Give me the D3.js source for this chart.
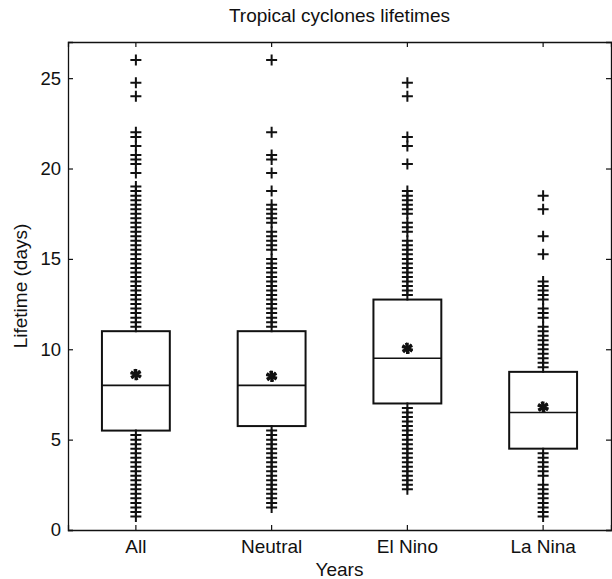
<!DOCTYPE html>
<html>
<head>
<meta charset="utf-8">
<script src="https://cdn.jsdelivr.net/npm/d3@7"></script>
<style>
  body { margin: 0; background: #fff; }
  text { font-family: "Liberation Sans", Arial, sans-serif; fill: #111; }
</style>
</head>
<body>
<svg id="chart"></svg>
<script>
// Tropical cyclone lifetimes boxplot
let categories = ['All', 'Neutral', 'El Nino', 'La Nina'];
let q1 = [5.5, 5.75, 7.0, 4.5];
let medians = [8.0, 8.0, 9.5, 6.5];
let q3 = [11.0, 11.0, 12.75, 8.75];
let means = [8.6, 8.5, 10.05, 6.8];
let yTicks = [0, 5, 10, 15, 20, 25];

// every value outside the box is drawn as a '+'
let allOutliers = [26, 24.75, 24, 22, 21.75, 21.25, 20.75, 20.5, 20.25, 19.75,
  19, 18.75, 18.5, 18.25, 18, 17.75, 17.5, 17.25, 17, 16.75, 16.5, 16.25, 16,
  15.75, 15.5, 15.25, 15, 14.75, 14.5, 14.25, 14, 13.75, 13.5, 13.25, 13, 12.75,
  12.5, 12.25, 12, 11.75, 11.5, 11.25,
  5.25, 5, 4.75, 4.5, 4.25, 4, 3.75, 3.5, 3.25, 3, 2.75, 2.5, 2.25, 2, 1.75,
  1.5, 1.25, 1, 0.75];
let neutralOutliers = [26, 22, 20.75, 20.5, 19.75, 18.75, 18, 17.75, 17.5,
  17.25, 17, 16.5, 16.25, 16, 15.75, 15.5, 15, 14.75, 14.5, 14.25, 14, 13.75,
  13.5, 13.25, 13, 12.75, 12.5, 12.25, 12, 11.75, 11.5, 11.25,
  5.5, 5.25, 5, 4.75, 4.5, 4.25, 4, 3.75, 3.5, 3.25, 3, 2.75, 2.5, 2.25, 2,
  1.75, 1.5, 1.25];
let elNinoOutliers = [24.75, 24, 21.75, 21.25, 20.25, 18.75, 18.5, 18.25, 18,
  17.75, 17.5, 17, 16.75, 16.5, 16, 15.75, 15.5, 15.25, 15, 14.75, 14.5, 14.25,
  14, 13.75, 13.5, 13.25, 13,
  6.75, 6.5, 6.25, 6, 5.75, 5.5, 5.25, 5, 4.75, 4.5, 4.25, 4, 3.75, 3.5, 3.25,
  3, 2.75, 2.5, 2.25];
let laNinaOutliers = [18.5, 17.75, 16.25, 15.25, 13.75, 13.5, 13.25, 13, 12.75,
  12.25, 12, 11.75, 11.25, 11, 10.75, 10.5, 10.25, 10, 9.75, 9.5, 9.25, 9,
  4.25, 4, 3.75, 3.5, 3.25, 3, 2.5, 2.25, 2, 1.75, 1.5, 1.25, 1, 0.75];
let outliers = [allOutliers, neutralOutliers, elNinoOutliers, laNinaOutliers];

let width = 612;
let height = 579;
let margin = { top: 42, right: 1, bottom: 49, left: 68 };

let svg = d3.select('#chart')
  .attr('width', width)
  .attr('height', height);

let x = d3.scaleBand()
  .domain(categories)
  .range([margin.left, width - margin.right])
  .padding(0);

let y = d3.scaleLinear()
  .domain([0, 27])
  .range([height - margin.bottom, margin.top]);

let boxes = categories.map((c, i) => ({
  name: c, q1: q1[i], med: medians[i], q3: q3[i], mean: means[i], out: outliers[i]
}));

let boxW = x.bandwidth() * 0.5;
let cx = d => x(d.name) + x.bandwidth() / 2;

// axes, ticks pointing inside like matlab
let tickLen = 5;
svg.append('g')
  .attr('transform', `translate(${margin.left},0)`)
  .call(d3.axisLeft(y).tickValues(yTicks).tickSize(-tickLen).tickPadding(7))
  .call(g => g.selectAll('text').style('font-size', '18.5px'));

svg.append('g')
  .attr('transform', `translate(${width - margin.right},0)`)
  .call(d3.axisRight(y).tickValues(yTicks).tickSize(-tickLen).tickFormat(''));

svg.append('g')
  .attr('transform', `translate(0,${height - margin.bottom})`)
  .call(d3.axisBottom(x).tickSize(-tickLen).tickPadding(10))
  .call(g => g.selectAll('text').style('font-size', '19px'));

svg.append('g')
  .attr('transform', `translate(0,${margin.top})`)
  .call(d3.axisTop(x).tickSize(-tickLen).tickFormat(''));

svg.selectAll('.domain').attr('stroke', '#111').attr('stroke-width', 1.3);
svg.selectAll('.tick line').attr('stroke', '#111').attr('stroke-width', 1.2);
svg.selectAll('.tick text').attr('fill', '#111');

// boxes
let g = svg.selectAll('.box')
  .data(boxes)
  .enter()
  .append('g')
  .attr('class', 'box');

g.append('rect')
  .attr('x', d => cx(d) - boxW / 2)
  .attr('y', d => y(d.q3))
  .attr('width', boxW)
  .attr('height', d => y(d.q1) - y(d.q3))
  .attr('fill', 'none')
  .attr('stroke', '#111')
  .attr('stroke-width', 2);

g.append('line')
  .attr('x1', d => cx(d) - boxW / 2)
  .attr('x2', d => cx(d) + boxW / 2)
  .attr('y1', d => y(d.med))
  .attr('y2', d => y(d.med))
  .attr('stroke', '#111')
  .attr('stroke-width', 1.6);

// outlier crosses
let plus = 5.5;
g.selectAll('.out')
  .data(d => d.out.map(v => ({ cx: cx(d), v: v })))
  .enter()
  .append('path')
  .attr('d', p => `M${p.cx - plus},${y(p.v)}H${p.cx + plus}M${p.cx},${y(p.v) - plus}V${y(p.v) + plus}`)
  .attr('stroke', '#111')
  .attr('stroke-width', 2)
  .attr('fill', 'none');

// mean stars
g.append('path')
  .attr('d', d3.symbol(d3.symbolAsterisk, 90))
  .attr('transform', d => `translate(${cx(d)},${y(d.mean)})`)
  .attr('stroke', '#111')
  .attr('stroke-width', 2.8)
  .attr('fill', 'none');
g.append('path')
  .attr('d', d3.symbol(d3.symbolAsterisk, 90))
  .attr('transform', d => `translate(${cx(d)},${y(d.mean)}) rotate(45)`)
  .attr('stroke', '#111')
  .attr('stroke-width', 2.2)
  .attr('fill', 'none');

// titles
svg.append('text')
  .attr('x', (margin.left + width - margin.right) / 2)
  .attr('y', 22)
  .attr('text-anchor', 'middle')
  .style('font-size', '19px')
  .text('Tropical cyclones lifetimes');

svg.append('text')
  .attr('x', (margin.left + width - margin.right) / 2)
  .attr('y', 576)
  .attr('text-anchor', 'middle')
  .style('font-size', '19px')
  .text('Years');

svg.append('text')
  .attr('transform', `translate(27,${(margin.top + height - margin.bottom) / 2}) rotate(-90)`)
  .attr('text-anchor', 'middle')
  .style('font-size', '19px')
  .text('Lifetime (days)');
</script>
</body>
</html>
